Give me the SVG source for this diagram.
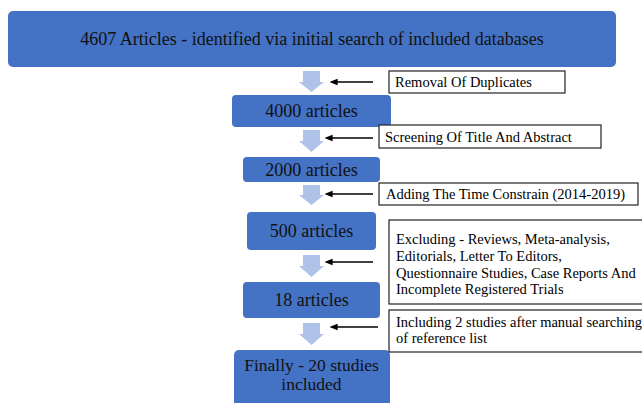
<svg xmlns="http://www.w3.org/2000/svg" width="642" height="403" viewBox="0 0 642 403">
  <defs>
    <style>
      .node { fill: #4472C4; }
      .ntxt { font-family: "Liberation Serif", "Times New Roman", serif; font-size: 18px; fill: #111; text-anchor: middle; }
      .ftxt { font-size: 17.5px; }
      .lbl { fill: #fff; stroke: #222; stroke-width: 1.2; }
      .ltxt { font-family: "Liberation Serif", "Times New Roman", serif; font-size: 14.5px; fill: #000; }
      .flow { fill: #AFC3E8; }
      .ptr { stroke: #000; stroke-width: 1.6; fill: none; }
    </style>
    <marker id="ah" viewBox="0 0 10 10" refX="2" refY="5" markerWidth="5" markerHeight="5" orient="auto-start-reverse" markerUnits="strokeWidth">
      <path d="M0,1 L10,5 L0,9 Z" fill="#000"/>
    </marker>
  </defs>
  <rect width="642" height="403" fill="#fff"/>

  <g id="connectors">
    <path class="flow" d="M303,71 H320 V82 H324 L311.5,92 L299,82 H303 Z"/>
    <path class="flow" d="M303,130 H320 V141 H324 L311.5,152 L299,141 H303 Z"/>
    <path class="flow" d="M303,185 H320 V195 H324 L311.5,205 L299,195 H303 Z"/>
    <path class="flow" d="M303,255 H320 V266 H324 L311.5,277 L299,266 H303 Z"/>
    <path class="flow" d="M303,323 H320 V334 H324 L311.5,345 L299,334 H303 Z"/>
    <line class="ptr" x1="373" y1="82" x2="336" y2="82" marker-end="url(#ah)"/>
    <line class="ptr" x1="373" y1="138" x2="331" y2="138" marker-end="url(#ah)"/>
    <line class="ptr" x1="373" y1="194" x2="331" y2="194" marker-end="url(#ah)"/>
    <line class="ptr" x1="373" y1="262" x2="331" y2="262" marker-end="url(#ah)"/>
    <line class="ptr" x1="378" y1="327" x2="336" y2="327" marker-end="url(#ah)"/>
  </g>

  <g id="n-initial">
    <rect class="node" x="8" y="11" width="608" height="56" rx="5"/>
    <text class="ntxt" x="312" y="45">4607 Articles - identified via initial search of included databases</text>
  </g>
  <g id="n-4000">
    <rect class="node" x="232" y="95" width="159" height="32" rx="4"/>
    <text class="ntxt" x="311.5" y="117">4000 articles</text>
  </g>
  <g id="n-2000">
    <rect class="node" x="243" y="157" width="137" height="25" rx="4"/>
    <text class="ntxt" x="311.5" y="176">2000 articles</text>
  </g>
  <g id="n-500">
    <rect class="node" x="247" y="212" width="129" height="38" rx="4"/>
    <text class="ntxt" x="311.5" y="237">500 articles</text>
  </g>
  <g id="n-18">
    <rect class="node" x="243" y="282" width="137" height="36" rx="4"/>
    <text class="ntxt" x="311.5" y="306">18 articles</text>
  </g>
  <g id="n-final">
    <rect class="node" x="234" y="350" width="156" height="60" rx="5"/>
    <text class="ntxt ftxt" x="311.5" y="371">Finally - 20 studies</text>
    <text class="ntxt ftxt" x="311.5" y="390">included</text>
  </g>

  <g id="l-duplicates">
    <rect class="lbl" x="389" y="71" width="176" height="22"/>
    <text class="ltxt" x="395" y="87">Removal Of Duplicates</text>
  </g>
  <g id="l-screening">
    <rect class="lbl" x="379" y="125" width="222" height="23"/>
    <text class="ltxt" x="385" y="142">Screening Of Title And Abstract</text>
  </g>
  <g id="l-time">
    <rect class="lbl" x="379" y="183" width="259" height="22"/>
    <text class="ltxt" x="386" y="199">Adding The Time Constrain (2014-2019)</text>
  </g>
  <g id="l-excluding">
    <rect class="lbl" x="389" y="220" width="260" height="84"/>
    <text class="ltxt" x="396" y="244">Excluding - Reviews, Meta-analysis,</text>
    <text class="ltxt" x="396" y="261">Editorials, Letter To Editors,</text>
    <text class="ltxt" x="396" y="277.5">Questionnaire Studies, Case Reports And</text>
    <text class="ltxt" x="396" y="294">Incomplete Registered Trials</text>
  </g>
  <g id="l-including">
    <rect class="lbl" x="389" y="310" width="260" height="42"/>
    <text class="ltxt" x="396" y="327">Including 2 studies after manual searching</text>
    <text class="ltxt" x="396" y="343">of reference list</text>
  </g>
</svg>
